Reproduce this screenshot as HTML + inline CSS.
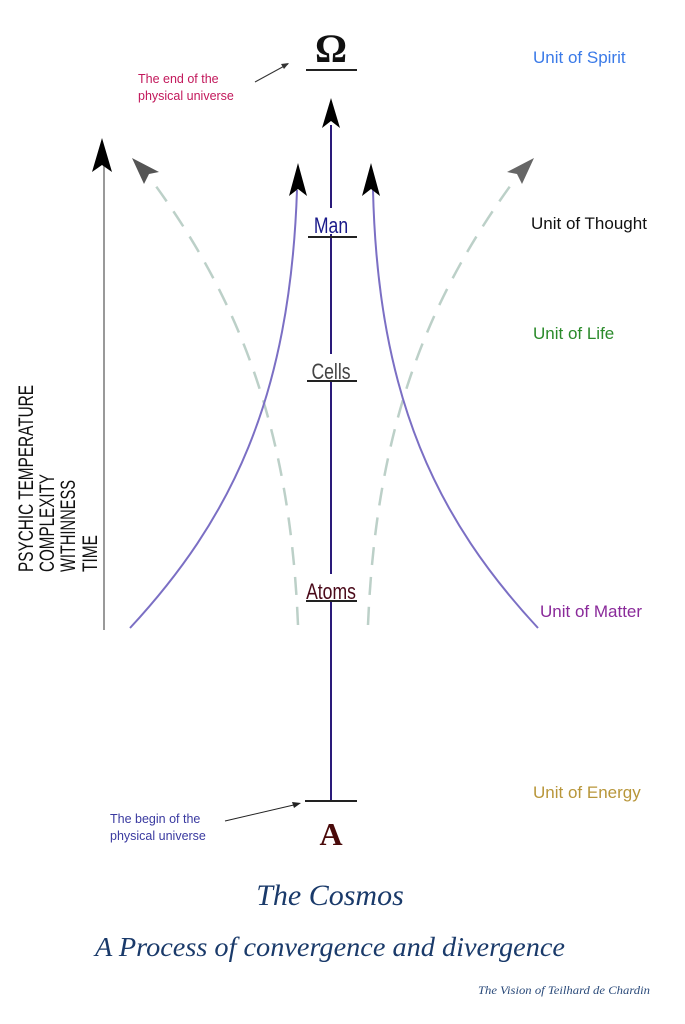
<!DOCTYPE html>
<html><head><meta charset="utf-8"><style>
html,body{margin:0;padding:0;background:#fff;}
svg{display:block;}
</style></head><body>
<svg width="685" height="1024" viewBox="0 0 685 1024" xmlns="http://www.w3.org/2000/svg" font-family="Liberation Sans, sans-serif">
<rect width="685" height="1024" fill="#fff"/>
<!-- omega -->
<text x="331" y="62" font-family="Liberation Serif, serif" font-weight="bold" font-size="40" text-anchor="middle" fill="#111">Ω</text>
<line x1="306" y1="70" x2="357" y2="70" stroke="#222" stroke-width="2"/>
<text font-size="12.5" fill="#c2185b"><tspan x="138" y="83">The end of the</tspan><tspan x="138" y="100">physical universe</tspan></text>
<line x1="255" y1="82" x2="288" y2="64" stroke="#333" stroke-width="1"/>
<path d="M289,63 L281,64 L284,69 Z" fill="#333"/>
<!-- center line -->
<line x1="331" y1="125" x2="331" y2="800" stroke="#2a1a7a" stroke-width="2"/>
<path d="M331,98 L340,128 L331,121 L322,128 Z" fill="#000"/>
<!-- left gray arrow -->
<line x1="104" y1="165" x2="104" y2="630" stroke="#999" stroke-width="2"/>
<path d="M102,138 L112,172 L102,165 L92,172 Z" fill="#000"/>
<!-- dashed curves -->
<path d="M298,625 C290,430 240,300 150,178" fill="none" stroke="#bcd0c8" stroke-width="2.5" stroke-dasharray="18,12"/>
<path d="M132,158 L159,172 L149,174 L144,184 Z" fill="#555"/>
<path d="M368,625 C376,430 426,300 516,178" fill="none" stroke="#bcd0c8" stroke-width="2.5" stroke-dasharray="18,12"/>
<path d="M534,158 L522,184 L517,174 L507,172 Z" fill="#666"/>
<!-- solid purple curves -->
<path d="M130,628 C230,520 290,400 297,190" fill="none" stroke="#7b6fc4" stroke-width="2"/>
<path d="M298,163 L307,196 L298,189 L289,196 Z" fill="#000"/>
<path d="M538,628 C438,520 378,400 373,190" fill="none" stroke="#7b6fc4" stroke-width="2"/>
<path d="M371,163 L380,196 L371,189 L362,196 Z" fill="#000"/>
<!-- node labels -->
<rect x="314" y="208" width="34" height="26" fill="#fff"/>
<text x="331" y="233" font-size="22" text-anchor="middle" fill="#1a1a8a" transform="translate(331 0) scale(0.8 1) translate(-331 0)">Man</text>
<line x1="308" y1="237" x2="357" y2="237" stroke="#222" stroke-width="2"/>
<rect x="311" y="354" width="40" height="26" fill="#fff"/>
<text x="331" y="379" font-size="22" text-anchor="middle" fill="#444" transform="translate(331 0) scale(0.8 1) translate(-331 0)">Cells</text>
<line x1="307" y1="381" x2="357" y2="381" stroke="#222" stroke-width="2"/>
<rect x="309" y="574" width="46" height="26" fill="#fff"/>
<text x="331" y="599" font-size="22" text-anchor="middle" fill="#4a0a1a" transform="translate(331 0) scale(0.8 1) translate(-331 0)">Atoms</text>
<line x1="306" y1="601" x2="357" y2="601" stroke="#222" stroke-width="2"/>
<line x1="305" y1="801" x2="357" y2="801" stroke="#222" stroke-width="2"/>
<text x="331" y="845" font-family="Liberation Serif, serif" font-weight="bold" font-size="32" text-anchor="middle" fill="#4a0a0a">A</text>
<text font-size="12.5" fill="#3a3aa0"><tspan x="110" y="823">The begin of the</tspan><tspan x="110" y="840">physical universe</tspan></text>
<line x1="225" y1="821" x2="298" y2="804" stroke="#222" stroke-width="1"/>
<path d="M301,803 L292,802 L294,808 Z" fill="#222"/>
<!-- right labels -->
<text x="533" y="63" font-size="17" fill="#3a7ae8">Unit of Spirit</text>
<text x="531" y="229" font-size="17" fill="#111">Unit of Thought</text>
<text x="533" y="339" font-size="17" fill="#2a8a2a">Unit of Life</text>
<text x="540" y="617" font-size="17" fill="#8a2a9a">Unit of Matter</text>
<text x="533" y="798" font-size="17" fill="#b8963a">Unit of Energy</text>
<!-- vertical text -->
<g font-size="15" fill="#111">
<text transform="translate(33,572) rotate(-90) scale(1,1.4)" textLength="187" lengthAdjust="spacingAndGlyphs">PSYCHIC TEMPERATURE</text>
<text transform="translate(54,572) rotate(-90) scale(1,1.4)" textLength="98" lengthAdjust="spacingAndGlyphs">COMPLEXITY</text>
<text transform="translate(75,572) rotate(-90) scale(1,1.4)" textLength="92" lengthAdjust="spacingAndGlyphs">WITHINNESS</text>
<text transform="translate(97,572) rotate(-90) scale(1,1.4)" textLength="37" lengthAdjust="spacingAndGlyphs">TIME</text>
</g>
<!-- titles -->
<text x="330" y="905" font-family="Liberation Serif, serif" font-style="italic" font-size="30" text-anchor="middle" fill="#1a3a6a">The Cosmos</text>
<text x="330" y="956" font-family="Liberation Serif, serif" font-style="italic" font-size="27" text-anchor="middle" fill="#1a3a6a" textLength="470" lengthAdjust="spacingAndGlyphs">A Process of convergence and divergence</text>
<text x="478" y="994" font-family="Liberation Serif, serif" font-style="italic" font-size="12" fill="#2a4a7a" textLength="172" lengthAdjust="spacingAndGlyphs">The Vision of Teilhard de Chardin</text>
</svg>
</body></html>
